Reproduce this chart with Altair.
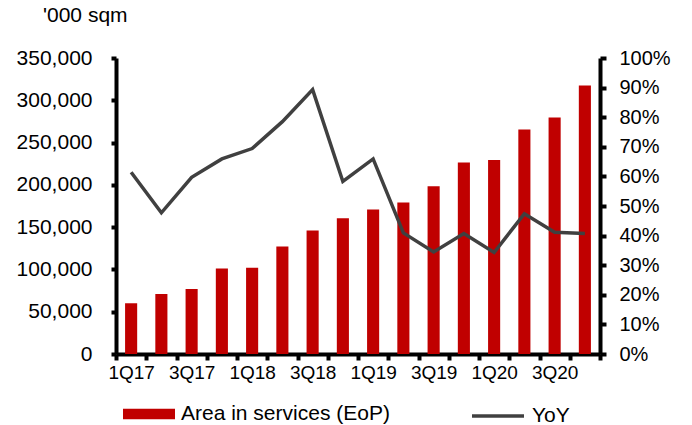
import altair as alt
import pandas as pd

quarters = ["1Q17", "2Q17", "3Q17", "4Q17", "1Q18", "2Q18", "3Q18", "4Q18",
            "1Q19", "2Q19", "3Q19", "4Q19", "1Q20", "2Q20", "3Q20", "4Q20"]
area = [60000, 71000, 77000, 101000, 102000, 127000, 146000, 160500,
        171000, 179000, 198500, 226500, 229500, 265500, 279500, 317500]
yoy = [0.614, 0.477, 0.597, 0.659, 0.694, 0.785, 0.893, 0.583,
       0.659, 0.409, 0.345, 0.407, 0.343, 0.474, 0.411, 0.407]
bar_name = "Area in services (EoP)"
line_name = "YoY"
bar_color = "#C00000"
line_color = "#404040"

df = pd.DataFrame({"quarter": quarters, "area": area, "yoy": yoy})

FONT = "Liberation Sans"

x = alt.X(
    "quarter:N", sort=quarters, title=None,
    scale=alt.Scale(paddingInner=0, paddingOuter=0),
    axis=alt.Axis(
        labelAngle=0, tickBand="extent", labelOverlap=False,
        labelExpr="test(/^[24]Q/, datum.value) ? '' : datum.value",
        domainColor="black", domainWidth=4, tickColor="black", tickWidth=4,
        tickSize=6, labelFontSize=19, labelFont=FONT, labelColor="black",
        labelPadding=3,
    ),
)

legend_common = dict(title=None, orient="none", direction="horizontal",
                     symbolSize=2704, labelFontSize=21, labelFont=FONT,
                     labelColor="black", labelOffset=6, padding=0, labelLimit=400)

base = alt.Chart(df)

bars = base.transform_calculate(series=f"'{bar_name}'").mark_bar(
    width=alt.RelativeBandSize(0.4)
).encode(
    x=x,
    y=alt.Y("area:Q", title=None, scale=alt.Scale(domain=[0, 350000]),
            axis=alt.Axis(values=list(range(0, 350001, 50000)), format=",.0f", grid=False,
                          domainColor="black", domainWidth=4, tickColor="black",
                          tickWidth=4, tickSize=5, labelFontSize=21, labelFont=FONT,
                          labelColor="black", labelPadding=19)),
    fill=alt.Fill("series:N", scale=alt.Scale(domain=[bar_name], range=[bar_color]),
                  legend=alt.Legend(legendX=7, legendY=330,
                                    symbolType="M-1,-0.2H1V0.2H-1Z",
                                    symbolStrokeWidth=0, **legend_common)),
)

line = base.transform_calculate(series=f"'{line_name}'").mark_line(strokeWidth=3.5).encode(
    x=x,
    y=alt.Y("yoy:Q", title=None, scale=alt.Scale(domain=[0, 1]),
            axis=alt.Axis(orient="right", values=[i / 10 for i in range(11)], format=".0%",
                          grid=False, domainColor="black", domainWidth=4, tickColor="black",
                          tickWidth=4, tickSize=6, labelFontSize=20, labelFont=FONT,
                          labelColor="black", labelPadding=13)),
    stroke=alt.Stroke("series:N", scale=alt.Scale(domain=[line_name], range=[line_color]),
                      legend=alt.Legend(legendX=354, legendY=330, symbolType="stroke",
                                        symbolStrokeWidth=3.5, **legend_common)),
)

chart = alt.layer(bars, line).resolve_scale(y="independent").properties(
    width=484, height=296,
    padding={"left": 116, "top": 58, "right": 92, "bottom": 71},
    autosize="none",
    background="white",
    title=alt.TitleParams("'000 sqm", anchor="start", frame="group", fontSize=21, font=FONT,
                          fontWeight="normal", color="black", dx=-73, dy=-17),
).configure_view(stroke=None)

chart.save("out.html", embed_options={"renderer": "svg", "actions": False})
